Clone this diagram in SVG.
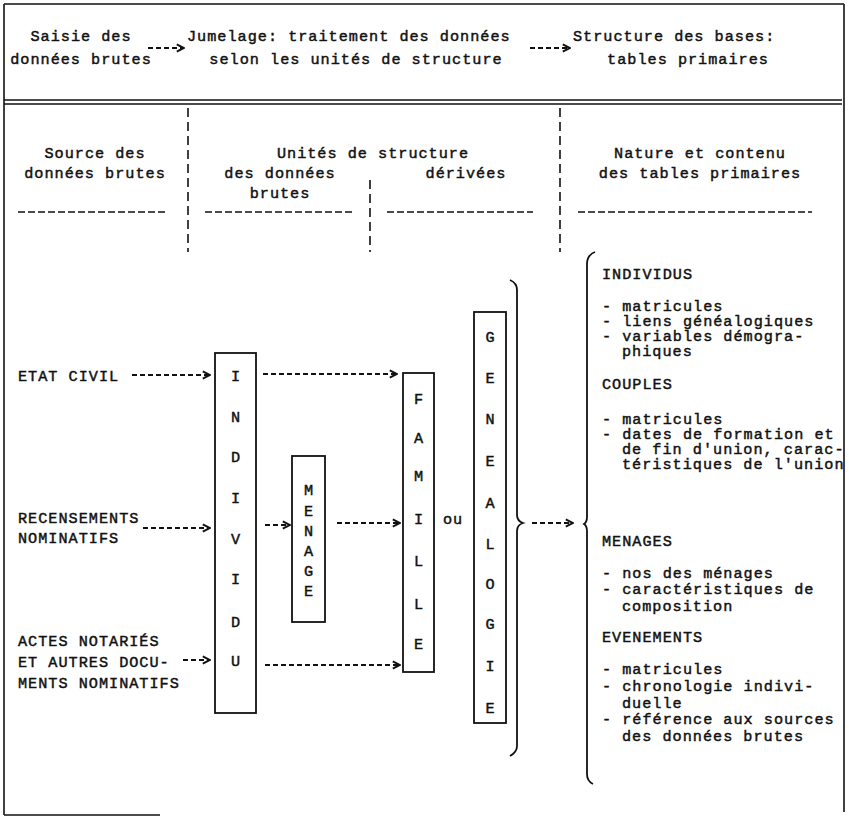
<svg xmlns="http://www.w3.org/2000/svg" width="849" height="817" viewBox="0 0 849 817">
<defs>
<style>
.t{font-family:"Liberation Mono","Courier New",monospace;font-size:15.2px;letter-spacing:1px;fill:#111;stroke:#111;stroke-width:0.45}
.c{text-anchor:middle}
.box{fill:none;stroke:#111;stroke-width:1.8}
.frame{fill:none;stroke:#111;stroke-width:1.6}
.conn{fill:none;stroke:#111;stroke-width:1.8;stroke-dasharray:5 3}
.div{fill:none;stroke:#111;stroke-width:1.6;stroke-dasharray:9 5}
.rule{fill:none;stroke:#111;stroke-width:1.6;stroke-dasharray:7 3}
.brace{fill:none;stroke:#111;stroke-width:1.8}
</style>
<marker id="ah" viewBox="0 0 10 10" refX="9" refY="5" markerWidth="9" markerHeight="10" markerUnits="userSpaceOnUse" orient="auto">
<path d="M1,1 L9,5 L1,9" fill="none" stroke="#111" stroke-width="2.2"/>
</marker>
</defs>
<rect width="849" height="817" fill="#fff"/>

<g id="frame">
<line class="frame" x1="4" y1="4" x2="844" y2="4"/>
<line class="frame" x1="4" y1="4" x2="4" y2="815"/>
<line class="frame" x1="844" y1="4" x2="844" y2="812"/>
<line class="frame" x1="4" y1="815" x2="160" y2="815"/>
<line class="frame" x1="4" y1="100" x2="842" y2="100"/>
<line class="frame" x1="4" y1="104" x2="842" y2="104"/>
</g>

<g id="header-saisie">
<text class="t c" x="81" y="41">Saisie des</text>
<text class="t c" x="81" y="64">données brutes</text>
</g>
<g id="header-jumelage">
<text class="t" x="187" y="41">Jumelage: traitement des données</text>
<text class="t c" x="356" y="64">selon les unités de structure</text>
</g>
<g id="header-structure">
<text class="t" x="573" y="41">Structure des bases:</text>
<text class="t c" x="688" y="64">tables primaires</text>
</g>

<g id="column-heads">
<line class="div" x1="188" y1="108" x2="188" y2="252"/>
<line class="div" x1="560" y1="108" x2="560" y2="252"/>
<line class="div" x1="370" y1="180" x2="370" y2="252"/>
<text class="t c" x="95" y="158">Source des</text>
<text class="t c" x="95" y="178">données brutes</text>
<text class="t c" x="373" y="158">Unités de structure</text>
<text class="t c" x="280" y="178">des données</text>
<text class="t c" x="280" y="198">brutes</text>
<text class="t c" x="466" y="178">dérivées</text>
<text class="t c" x="700" y="158">Nature et contenu</text>
<text class="t c" x="700" y="178">des tables primaires</text>
<line class="rule" x1="18" y1="212" x2="168" y2="212"/>
<line class="rule" x1="205" y1="212" x2="355" y2="212"/>
<line class="rule" x1="387" y1="212" x2="533" y2="212"/>
<line class="rule" x1="578" y1="212" x2="812" y2="212"/>
</g>

<g id="src-etat-civil"><text class="t" x="18" y="381">ETAT CIVIL</text></g>
<g id="src-recensements">
<text class="t" x="18" y="523">RECENSEMENTS</text>
<text class="t" x="18" y="543">NOMINATIFS</text>
</g>
<g id="src-actes">
<text class="t" x="18" y="646">ACTES NOTARIÉS</text>
<text class="t" x="18" y="667">ET AUTRES DOCU-</text>
<text class="t" x="18" y="688">MENTS NOMINATIFS</text>
</g>

<g id="individu">
<rect class="box" x="215" y="353" width="41" height="360"/>
<text class="t c" x="236" y="381">I</text>
<text class="t c" x="236" y="422">N</text>
<text class="t c" x="236" y="462">D</text>
<text class="t c" x="236" y="503">I</text>
<text class="t c" x="236" y="544">V</text>
<text class="t c" x="236" y="584">I</text>
<text class="t c" x="236" y="627">D</text>
<text class="t c" x="236" y="666">U</text>
</g>

<g id="menage">
<rect class="box" x="292" y="456" width="33" height="166"/>
<text class="t c" x="309" y="495">M</text>
<text class="t c" x="309" y="516">E</text>
<text class="t c" x="309" y="536">N</text>
<text class="t c" x="309" y="556">A</text>
<text class="t c" x="309" y="576">G</text>
<text class="t c" x="309" y="596">E</text>
</g>

<g id="famille">
<rect class="box" x="403" y="373" width="31" height="299"/>
<text class="t c" x="419" y="404">F</text>
<text class="t c" x="419" y="443">A</text>
<text class="t c" x="419" y="481">M</text>
<text class="t c" x="419" y="524">I</text>
<text class="t c" x="419" y="566">L</text>
<text class="t c" x="419" y="609">L</text>
<text class="t c" x="419" y="649">E</text>
</g>

<g id="ou"><text class="t c" x="453" y="524">ou</text></g>

<g id="genealogie">
<rect class="box" x="474" y="312" width="32" height="411"/>
<text class="t c" x="490.5" y="342">G</text>
<text class="t c" x="490.5" y="383">E</text>
<text class="t c" x="490.5" y="424">N</text>
<text class="t c" x="490.5" y="466">E</text>
<text class="t c" x="490.5" y="508">A</text>
<text class="t c" x="490.5" y="549">L</text>
<text class="t c" x="490.5" y="589">O</text>
<text class="t c" x="490.5" y="629">G</text>
<text class="t c" x="490.5" y="671">I</text>
<text class="t c" x="490.5" y="713">E</text>
</g>

<g id="brace-right">
<path class="brace" d="M510,280 Q517,283 517,290 L517,515 Q517,521 523,523 Q517,525 517,531 L517,746 Q517,752 510,756"/>
</g>

<g id="brace-left">
<path class="brace" d="M595,252 Q587,255 587,264 L587,517 Q587,522 584,524 Q587,526 587,531 L587,774 Q587,781 593,784"/>
</g>

<g id="tables">
<text class="t" x="602" y="279">INDIVIDUS</text>
<text class="t" x="602" y="311">- matricules</text>
<text class="t" x="602" y="326">- liens généalogiques</text>
<text class="t" x="602" y="341">- variables démogra-</text>
<text class="t" x="622" y="356">phiques</text>
<text class="t" x="602" y="389">COUPLES</text>
<text class="t" x="602" y="424">- matricules</text>
<text class="t" x="602" y="439">- dates de formation et</text>
<text class="t" x="622" y="454">de fin d'union, carac-</text>
<text class="t" x="622" y="469">téristiques de l'union</text>
<text class="t" x="602" y="546">MENAGES</text>
<text class="t" x="602" y="578">- nos des ménages</text>
<text class="t" x="602" y="594">- caractéristiques de</text>
<text class="t" x="622" y="611">composition</text>
<text class="t" x="602" y="642">EVENEMENTS</text>
<text class="t" x="602" y="674">- matricules</text>
<text class="t" x="602" y="691">- chronologie indivi-</text>
<text class="t" x="622" y="708">duelle</text>
<text class="t" x="602" y="724">- référence aux sources</text>
<text class="t" x="622" y="741">des données brutes</text>
</g>

<g id="connectors">
<line class="conn" x1="148" y1="48" x2="184" y2="48" marker-end="url(#ah)"/>
<line class="conn" x1="530" y1="48" x2="570" y2="48" marker-end="url(#ah)"/>
<line class="conn" x1="132" y1="375" x2="210" y2="375" marker-end="url(#ah)"/>
<line class="conn" x1="143" y1="528" x2="210" y2="528" marker-end="url(#ah)"/>
<line class="conn" x1="183" y1="660" x2="210" y2="660" marker-end="url(#ah)"/>
<line class="conn" x1="263" y1="374" x2="397" y2="374" marker-end="url(#ah)"/>
<line class="conn" x1="265" y1="525" x2="290" y2="525" marker-end="url(#ah)"/>
<line class="conn" x1="337" y1="523" x2="400" y2="523" marker-end="url(#ah)"/>
<line class="conn" x1="265" y1="665" x2="400" y2="665" marker-end="url(#ah)"/>
<line class="conn" x1="532" y1="523" x2="573" y2="523" marker-end="url(#ah)"/>
</g>
</svg>
